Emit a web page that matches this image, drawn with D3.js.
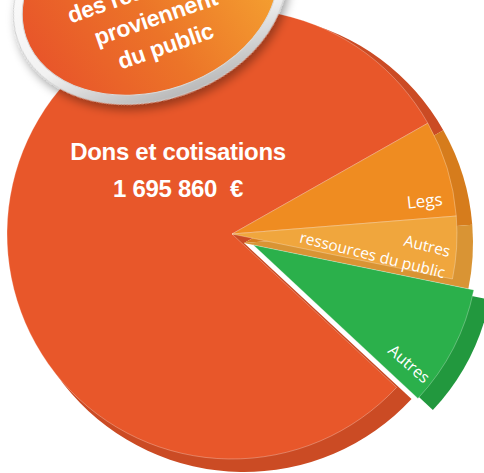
<!DOCTYPE html>
<html>
<head>
<meta charset="utf-8">
<script src="https://cdn.jsdelivr.net/npm/d3@7"></script>
<style>
  body { margin: 0; background: #fff; }
  svg { display: block; }
</style>
</head>
<body>
<svg id="chart"></svg>
<script>
// data
var categories = ["Legs", "Autres ressources du public", "Autres", "Dons et cotisations"];
var values = [147000, 95000, 185500, 1695860];
var faceColors = ["#EF8C21", "#F0A63D", "#2BB04B", "#E8572A"];
var rimColors = ["#D67C1C", "#D99434", "#22983E", "#CB4B24"];
var sliceLabels = [["Legs"], ["Autres", "ressources du public"], ["Autres"], []];
var mainLabel = ["Dons et cotisations", "1 695 860  \u20ac"];
var badgeLines = ["des ressources", "proviennent", "du public"];

var width = 484, height = 473;
var center = { x: 232, y: 234 };
var radius = 225;
var rim = { dx: 12, dy: 9, r: 229 };
var explode = [0, 0, 24, 0];

// label layout: fraction of the slice angle, distance from the rim, rotation
var labelLayout = [
	{ frac: 0.87, inset: 12, rot: -6, size: 17, lead: 1.28 },
	{ frac: 0.66, inset: 7, rot: 14, size: 15.5, lead: 1.42 },
	{ frac: 0.88, inset: 5, rot: 41, size: 16, lead: 1.28 }
];

var svg = d3.select('#chart')
	.attr('width', width)
	.attr('height', height);

var defs = svg.append('defs');

var shadow = defs.append('filter')
	.attr('id', 'badgeShadow')
	.attr('x', '-20%').attr('y', '-20%')
	.attr('width', '140%').attr('height', '150%');
shadow.append('feDropShadow')
	.attr('dx', 1).attr('dy', 6)
	.attr('stdDeviation', 5)
	.attr('flood-color', '#000')
	.attr('flood-opacity', 0.35);

var badgeFill = defs.append('linearGradient')
	.attr('id', 'badgeFill')
	.attr('x1', 0).attr('y1', 0.6).attr('x2', 1).attr('y2', 0.4);
badgeFill.append('stop').attr('offset', '0%').attr('stop-color', '#E8552A');
badgeFill.append('stop').attr('offset', '45%').attr('stop-color', '#EC7428');
badgeFill.append('stop').attr('offset', '100%').attr('stop-color', '#F6A932');

var ringFill = defs.append('linearGradient')
	.attr('id', 'ringFill')
	.attr('x1', 0).attr('y1', 0).attr('x2', 0).attr('y2', 1);
ringFill.append('stop').attr('offset', '0%').attr('stop-color', '#ffffff');
ringFill.append('stop').attr('offset', '70%').attr('stop-color', '#f2f2f2');
ringFill.append('stop').attr('offset', '100%').attr('stop-color', '#b9b9b9');

var pie = d3.pie()
	.sort(null)
	.value(function(d) { return d; })
	.startAngle(60.5 * Math.PI / 180)
	.endAngle(60.5 * Math.PI / 180 + 2 * Math.PI);

var arcs = pie(values);

var faceArc = d3.arc().innerRadius(0).outerRadius(radius);
var rimArc = d3.arc().innerRadius(0).outerRadius(rim.r);

// draw Dons first so the small slices sit on top of it
var drawOrder = [3, 0, 1, 2];

var pieG = svg.append('g')
	.attr('transform', 'translate(' + center.x + ',' + center.y + ')');

drawOrder.forEach(function(i) {
	var a = arcs[i];
	var mid = (a.startAngle + a.endAngle) / 2;
	var ox = explode[i] * Math.sin(mid);
	var oy = -explode[i] * Math.cos(mid);
	var g = pieG.append('g')
		.attr('class', 'slice')
		.attr('transform', 'translate(' + ox + ',' + oy + ')');

	g.append('path')
		.attr('d', rimArc(a))
		.attr('transform', 'translate(' + rim.dx + ',' + rim.dy + ')')
		.attr('fill', rimColors[i]);

	g.append('path')
		.attr('d', faceArc(a))
		.attr('fill', faceColors[i])
		.attr('stroke', 'rgba(255,255,255,0.28)')
		.attr('stroke-width', 1);

	if (i < 3) {
		var lay = labelLayout[i];
		var ang = a.startAngle + lay.frac * (a.endAngle - a.startAngle);
		var r = radius - lay.inset;
		var lx = r * Math.sin(ang);
		var ly = -r * Math.cos(ang);
		var t = g.append('text')
			.attr('transform', 'translate(' + lx + ',' + ly + ') rotate(' + lay.rot + ')')
			.attr('text-anchor', 'end')
			.attr('fill', '#fff')
			.attr('font-family', 'Open Sans, sans-serif')
			.attr('font-size', lay.size + 'px');
		sliceLabels[i].forEach(function(line, k) {
			t.append('tspan')
				.attr('x', 0)
				.attr('y', k * lay.lead * lay.size)
				.text(line);
		});
	}
});

// main label inside the Dons slice
var main = pieG.append('text')
	.attr('text-anchor', 'middle')
	.attr('fill', '#fff')
	.attr('font-family', 'Liberation Sans, Arial, sans-serif')
	.attr('font-weight', 'bold')
	.attr('font-size', '24px')
	.attr('letter-spacing', '-0.3px')
	.style('white-space', 'pre');
mainLabel.forEach(function(line, k) {
	main.append('tspan')
		.attr('x', -54)
		.attr('y', -74 + k * 37)
		.text(line);
});

// badge in the top-left corner
var badge = { x: 150, y: -5, rx: 140, ry: 105, ring: 9, rot: -19 };
var badgeG = svg.append('g')
	.attr('transform', 'translate(' + badge.x + ',' + badge.y + ') rotate(' + badge.rot + ')');

badgeG.append('ellipse')
	.attr('rx', badge.rx)
	.attr('ry', badge.ry)
	.attr('fill', 'url(#ringFill)')
	.attr('stroke', '#cfcfcf')
	.attr('stroke-width', 1)
	.attr('filter', 'url(#badgeShadow)');

badgeG.append('ellipse')
	.attr('rx', badge.rx - badge.ring)
	.attr('ry', badge.ry - badge.ring)
	.attr('fill', 'url(#badgeFill)')
	.attr('stroke', '#d9d9d9')
	.attr('stroke-width', 1);

var badgeText = badgeG.append('text')
	.attr('text-anchor', 'middle')
	.attr('fill', '#fff')
	.attr('font-family', 'Liberation Sans, Arial, sans-serif')
	.attr('font-weight', 'bold')
	.attr('font-size', '23px')
	.attr('letter-spacing', '-0.3px');
badgeLines.forEach(function(line, k) {
	badgeText.append('tspan')
		.attr('x', -2)
		.attr('y', 1 + k * 30)
		.text(line);
});
</script>
</body>
</html>
